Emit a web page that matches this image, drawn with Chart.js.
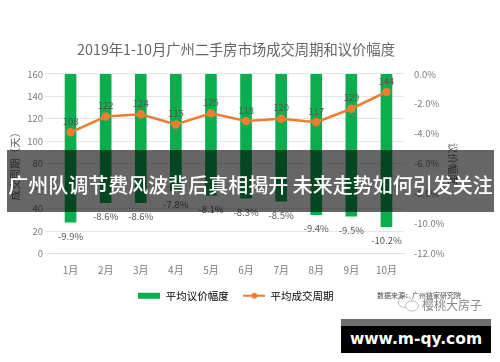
<!DOCTYPE html>
<html>
<head>
<meta charset="utf-8">
<script src="https://cdn.jsdelivr.net/npm/chart.js@4"></script>
<style>
  html, body { margin: 0; padding: 0; background: #fff; }
  #wrap { position: relative; width: 500px; height: 362px; overflow: hidden; font-family: "Noto Sans CJK SC", sans-serif; }
  #myChart { position: absolute; left: 0; top: 0; filter: blur(0.5px); }
  .banner { position: absolute; left: 7px; top: 150px; width: 487px; height: 62px; background: rgba(0,0,0,.6);
    color: #fff; font-size: 20px; font-weight: 500; line-height: 70px; text-align: center; white-space: nowrap; }
  .site { position: absolute; left: 341px; top: 319px; width: 150px; height: 34px; background: #000; border-top: 7px solid #6e6e6e;
    box-sizing: border-box; color: #fff; font: bold 15.5px "DejaVu Sans", sans-serif; line-height: 27px; text-align: center; }
  .source { position: absolute; left: 377px; top: 290px; font-size: 7px; color: #444; white-space: nowrap; }
  .mark { position: absolute; left: 422px; top: 296px; font-size: 12px; color: #888; white-space: nowrap; }
  svg { position: absolute; left: 397px; top: 295px; }
</style>
</head>
<body>
<div id="wrap">
  <canvas id="myChart" width="500" height="362"></canvas>
  <svg width="24" height="18" viewBox="0 0 24 18"><ellipse cx="8" cy="7" rx="7" ry="5.5" fill="#fff" stroke="#bbb"/><ellipse cx="15" cy="11" rx="6.5" ry="5" fill="#fff" stroke="#bbb"/></svg>
  <div class="source">数据来源：广州链家研究院</div>
  <div class="mark">樱桃大房子</div>
  <div class="banner">广州队调节费风波背后真相揭开 未来走势如何引发关注</div>
  <div class="site">www.m-qy.com</div>
</div>
<script>
// dados do grafico
const meses = ['1月', '2月', '3月', '4月', '5月', '6月', '7月', '8月', '9月', '10月'];
const yijia = [-9.9, -8.6, -8.6, -7.8, -8.1, -8.3, -8.5, -9.4, -9.5, -10.2];
const chengjiao = [108, 122, 124, 115, 125, 118, 120, 117, 129, 144];

const fonte = '"Noto Sans CJK SC", sans-serif';
const cinza = '#7a7a7a';
const verde = '#0aae4f';
const laranja = '#ed7d31';

// amostras da legenda
function amostra(linha) {
  var c = document.createElement('canvas');
  c.width = 22;
  c.height = 8;
  var g = c.getContext('2d');
  if (linha) {
    g.fillStyle = laranja;
    g.fillRect(0, 3, 22, 2);
    g.beginPath();
    g.arc(11, 4, 3, 0, Math.PI * 2);
    g.fill();
  } else {
    g.fillStyle = verde;
    g.fillRect(0, 1, 22, 6);
  }
  return c;
}

// rotulos em cima das barras e da linha
const rotulos = {
  id: 'rotulos',
  afterDatasetsDraw(chart) {
    var ctx = chart.ctx;
    ctx.save();
    ctx.font = '9.5px ' + fonte;
    ctx.fillStyle = '#555';
    ctx.textAlign = 'center';
    chart.getDatasetMeta(0).data.forEach(function (b, i) {
      ctx.fillText(yijia[i].toFixed(1) + '%', b.x, b.y + 14);
    });
    chart.getDatasetMeta(1).data.forEach(function (p, i) {
      ctx.fillText(chengjiao[i], p.x, p.y - 11);
    });
    ctx.restore();
  }
};

const ctx = document.getElementById('myChart').getContext('2d');
const myChart = new Chart(ctx, {
  data: {
    labels: meses,
    datasets: [
      {
        type: 'bar',
        label: '平均议价幅度',
        data: yijia,
        yAxisID: 'y1',
        backgroundColor: verde,
        barThickness: 11,
        order: 2
      },
      {
        type: 'line',
        label: '平均成交周期',
        data: chengjiao,
        yAxisID: 'y',
        borderColor: laranja,
        backgroundColor: laranja,
        borderWidth: 2.5,
        pointRadius: 3,
        tension: 0,
        order: 1
      }
    ]
  },
  options: {
    responsive: false,
    animation: false,
    layout: { padding: { top: 0, bottom: 51, right: 28 } },
    plugins: {
      title: {
        display: true,
        text: '2019年1-10月广州二手房市场成交周期和议价幅度',
        color: '#666',
        font: { family: fonte, size: 14.3, weight: 'normal' },
        padding: { top: 41, bottom: 15.8 }
      },
      legend: {
        display: true,
        position: 'bottom',
        labels: {
          usePointStyle: true,
          pointStyleWidth: 22,
          color: '#666',
          font: { family: fonte, size: 10.5 },
          padding: 7,
          generateLabels() {
            return [
              { text: '平均议价幅度\u2002 ', pointStyle: amostra(false), datasetIndex: 0 },
              { text: '平均成交周期', pointStyle: amostra(true), datasetIndex: 1 }
            ];
          }
        }
      },
      tooltip: { enabled: false }
    },
    scales: {
      x: {
        grid: { display: false },
        border: { color: '#ddd' },
        ticks: { color: cinza, font: { family: fonte, size: 10 }, padding: 3 },
        afterFit(s) { s.height = 30; }
      },
      y: {
        min: 0,
        max: 160,
        position: 'left',
        grid: { color: '#e6e6e6' },
        border: { display: false },
        ticks: { stepSize: 20, color: cinza, font: { family: fonte, size: 9.5 }, padding: 2 },
        title: { display: true, text: '成交周期（天）', color: '#666', font: { family: fonte, size: 10.5 }, padding: 9 },
        afterFit(s) { s.width = 53; }
      },
      y1: {
        min: -12,
        max: 0,
        position: 'right',
        grid: { display: false },
        border: { display: false },
        ticks: { stepSize: 2, color: cinza, font: { family: fonte, size: 9.5 }, padding: 2,
          callback: function (v) { return v.toFixed(1) + '%'; } },
        title: { display: true, text: '议价幅度', color: '#666', font: { family: fonte, size: 10.5 }, padding: 13 },
        afterFit(s) { s.width = 68; }
      }
    }
  },
  plugins: [rotulos]
});
</script>
</body>
</html>
